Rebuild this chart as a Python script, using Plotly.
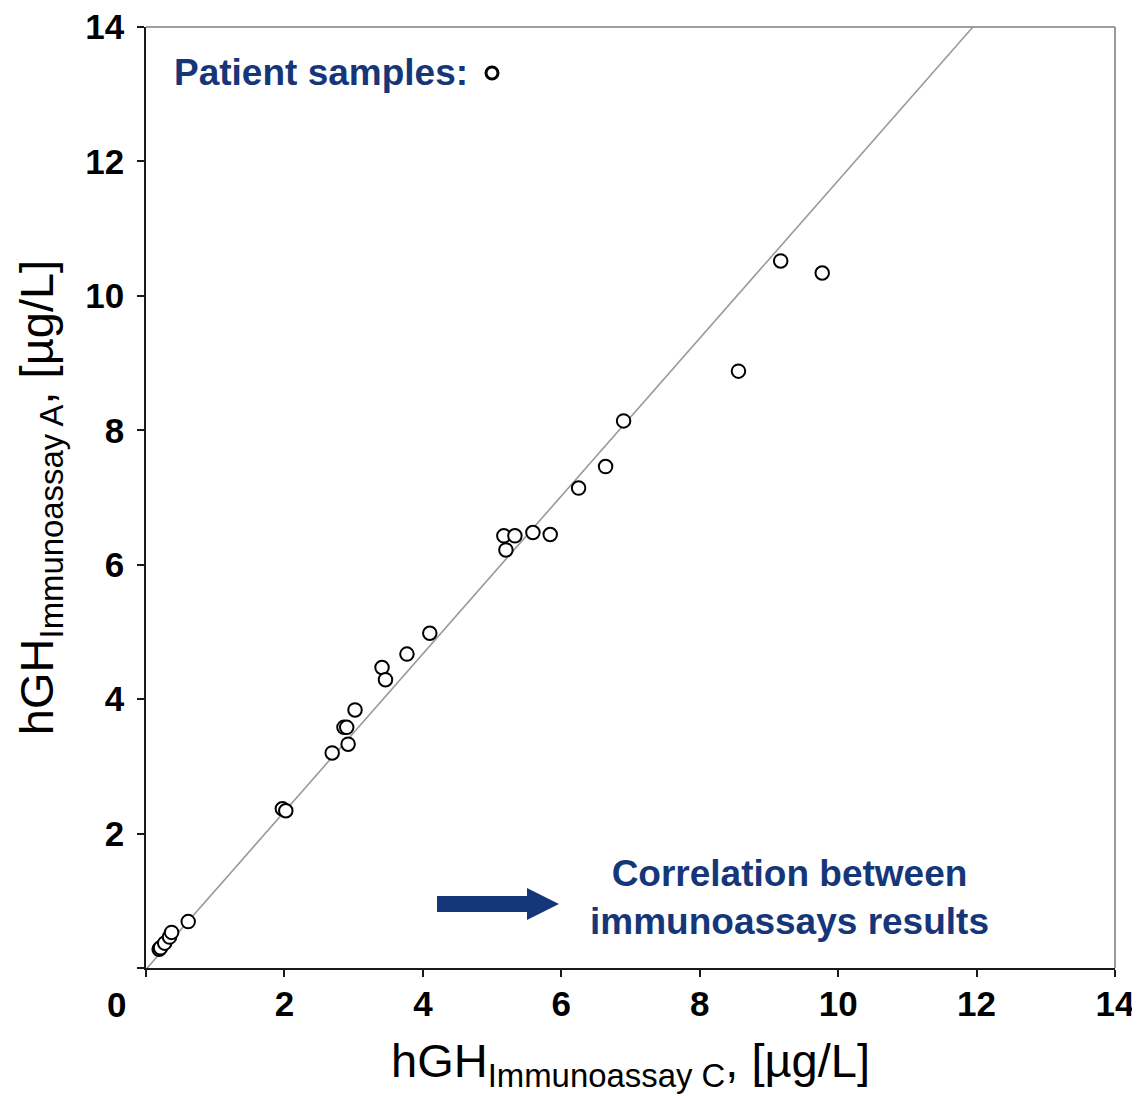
import plotly.graph_objects as go

# Patient sample data (hGH, µg/L)
immunoassay_c = [0.19, 0.21, 0.27, 0.34, 0.37, 0.61, 1.97, 2.02, 2.69, 2.86, 2.90, 2.92,
                 3.02, 3.41, 3.46, 3.77, 4.10, 5.17, 5.20, 5.33, 5.59, 5.84, 6.25, 6.64,
                 6.90, 8.56, 9.17, 9.77]
immunoassay_a = [0.28, 0.30, 0.37, 0.46, 0.53, 0.69, 2.37, 2.34, 3.20, 3.58, 3.58, 3.33,
                 3.84, 4.47, 4.29, 4.67, 4.98, 6.43, 6.22, 6.43, 6.48, 6.45, 7.14, 7.46,
                 8.14, 8.88, 10.52, 10.34]

# Regression line
slope = 1.1735
intercept = -0.02
line_x = [0.0, 11.95]
line_y = [intercept + slope * v for v in line_x]

tick_vals = [0, 2, 4, 6, 8, 10, 12, 14]
tick_text = ["", "2", "4", "6", "8", "10", "12", "14"]   # shared origin "0" drawn separately
origin_label = "0"

NAVY = "#15377a"
FONT = "Liberation Sans, Arial, sans-serif"

# page body has an 8px default margin
OFF = 8
FIG_W, FIG_H = 1140 - OFF, 1096 - OFF

# plot area in window pixels
L, R, T, B = 146, 1115, 27, 968
W, H = R - L, B - T

def px(x):
    return (x - L) / W

def py(y):
    return (B - y) / H

fig = go.Figure()

fig.add_trace(go.Scatter(
    x=line_x, y=line_y, mode="lines",
    line=dict(color="#9a9a9a", width=1.6),
    hoverinfo="skip", showlegend=False,
))

fig.add_trace(go.Scatter(
    x=immunoassay_c, y=immunoassay_a, mode="markers",
    marker=dict(symbol="circle", size=13.5, color="white",
                line=dict(color="black", width=2)),
    name="Patient samples", showlegend=False,
))

shapes = []
# top and right frame (gray)
shapes.append(dict(type="line", xref="paper", yref="paper", x0=0, x1=1, y0=1, y1=1,
                   line=dict(color="#808080", width=1.6)))
shapes.append(dict(type="line", xref="paper", yref="paper", x0=1, x1=1, y0=0, y1=1,
                   line=dict(color="#808080", width=1.6)))
# legend circle
cx, cy = px(492), py(73)
shapes.append(dict(type="circle", xref="paper", yref="paper",
                   xsizemode="pixel", ysizemode="pixel", xanchor=cx, yanchor=cy,
                   x0=-6, x1=6, y0=-6, y1=6,
                   line=dict(color="black", width=3), fillcolor="white"))
# block arrow
pts = [(437, 896), (527, 896), (527, 888), (559, 904), (527, 920), (527, 912), (437, 912)]
path = "M " + " L ".join(f"{px(a):.5f},{py(b):.5f}" for a, b in pts) + " Z"
shapes.append(dict(type="path", xref="paper", yref="paper", path=path,
                   fillcolor=NAVY, line=dict(color=NAVY, width=0)))

annotations = [
    dict(text="<b>Patient samples:</b>", xref="paper", yref="paper",
         x=px(172), y=py(73), xanchor="left", yanchor="middle", showarrow=False,
         font=dict(family=FONT, size=37, color=NAVY)),
    dict(text="<b>Correlation between<br>immunoassays results</b>", xref="paper", yref="paper",
         x=px(789), y=py(897), xanchor="center", yanchor="middle", showarrow=False,
         align="center", font=dict(family=FONT, size=37, color=NAVY)),
    dict(text=f"<b>{origin_label}</b>", xref="paper", yref="paper",
         x=px(116), y=py(1004), xanchor="center", yanchor="middle", showarrow=False,
         font=dict(family=FONT, size=35, color="black")),
]

axis_common = dict(
    range=[0, 14], tickvals=tick_vals, ticktext=tick_text,
    showgrid=False, zeroline=False, showline=True, linecolor="#1a1a1a", linewidth=1.6,
    ticks="outside", ticklen=7, tickwidth=1.6, tickcolor="#1a1a1a",
    tickfont=dict(family=FONT, size=35, color="black", weight="bold"),
    automargin=False, ticklabeloverflow="allow",
)

fig.update_layout(
    width=FIG_W, height=FIG_H,
    margin=dict(l=L - OFF, r=1140 - R, t=T - OFF, b=1096 - B),
    paper_bgcolor="white", plot_bgcolor="white",
    xaxis=dict(**axis_common,
               title=dict(text="hGH<sub>Immunoassay C</sub>, [µg/L]",
                          font=dict(family=FONT, size=47, color="black"), standoff=22),
               ticklabelstandoff=-3),
    yaxis=dict(**axis_common,
               title=dict(text="hGH<sub>Immunoassay A</sub>, [µg/L]",
                          font=dict(family=FONT, size=47, color="black"), standoff=17),
               ticklabelstandoff=6),
    shapes=shapes,
    annotations=annotations,
)

fig.write_html("out.html")
